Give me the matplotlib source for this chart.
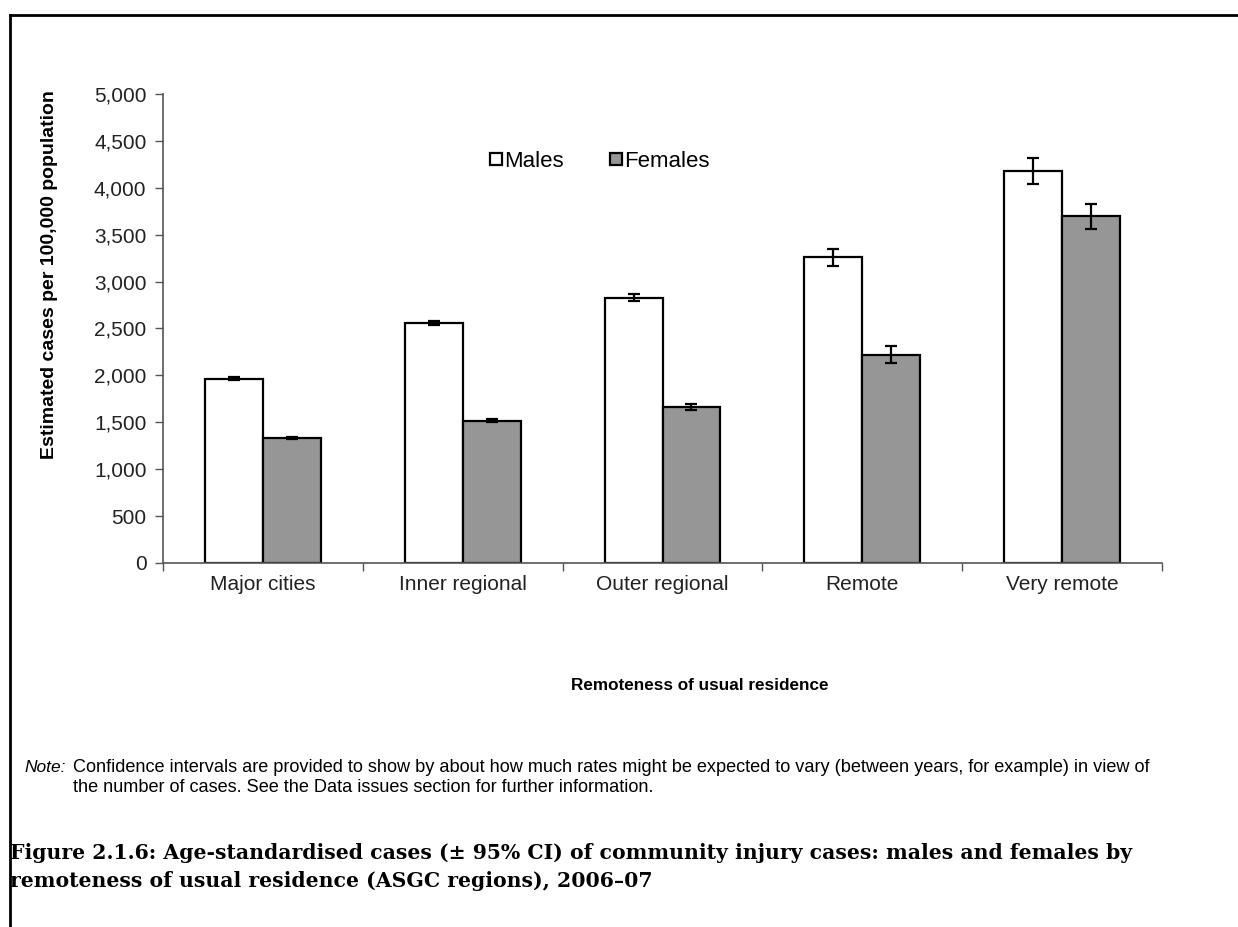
import matplotlib.pyplot as plt
import numpy as np
from matplotlib.lines import Line2D
from matplotlib.ticker import FuncFormatter, MultipleLocator

regions = ["Major cities", "Inner regional", "Outer regional", "Remote", "Very remote"]
males = [1965, 2555, 2830, 3260, 4180]
females = [1330, 1515, 1665, 2220, 3695]
males_ci = [15, 20, 40, 90, 140]
females_ci = [10, 15, 30, 90, 135]

plt.rcParams['font.family'] = ['Liberation Sans', 'DejaVu Sans']

fig = plt.figure(figsize=(12.38, 9.27), dpi=100)
ax = fig.add_axes([0.1317, 0.3927, 0.8069, 0.5059])

x = np.arange(len(regions))
w = 0.29
err_kw = dict(ecolor='black', elinewidth=1.6, capsize=4.5, capthick=1.6)
ax.bar(x - w / 2, males, w, yerr=males_ci, color='white', edgecolor='black',
       linewidth=1.6, error_kw=err_kw, label='Males')
ax.bar(x + w / 2, females, w, yerr=females_ci, color='#969696', edgecolor='black',
       linewidth=1.6, error_kw=err_kw, label='Females')

ax.set_xlim(-0.5, len(regions) - 0.5)
ax.set_ylim(0, 5000)
ax.yaxis.set_major_locator(MultipleLocator(500))
ax.yaxis.set_major_formatter(FuncFormatter(lambda v, p: f"{int(v):,}"))

# tick marks sit between categories, labels in the middle
ax.set_xticks(np.arange(len(regions) + 1) - 0.5)
ax.set_xticklabels([])
ax.set_xticks(x, minor=True)
ax.set_xticklabels(regions, minor=True)
ax.tick_params(axis='x', which='minor', length=0, pad=9, labelsize=15, labelcolor='#222222')
ax.tick_params(axis='x', which='major', direction='out', length=6, width=1, color='#555555')
ax.tick_params(axis='y', direction='out', length=6, width=1, color='#555555',
               labelsize=15, labelcolor='#222222', pad=6)

for s in ['top', 'right']:
    ax.spines[s].set_visible(False)
for s in ['left', 'bottom']:
    ax.spines[s].set_color('#555555')
    ax.spines[s].set_linewidth(1.2)

ax.set_ylabel('Estimated cases per 100,000 population', fontsize=14, fontweight='bold')
ax.yaxis.set_label_coords(-0.105, 0.614)

handles = [Line2D([], [], marker='s', linestyle='none', markersize=8, markerfacecolor='white',
                  markeredgecolor='black', markeredgewidth=1.6),
           Line2D([], [], marker='s', linestyle='none', markersize=8, markerfacecolor='#969696',
                  markeredgecolor='black', markeredgewidth=1.6)]
ax.legend(handles, ['Males', 'Females'], loc='center left', bbox_to_anchor=(0.308, 0.856),
          ncol=2, frameon=False, fontsize=16, handlelength=0.5, handletextpad=0.1,
          columnspacing=2.1)

fig.text(700 / 1238, 1 - 685 / 927, 'Remoteness of usual residence', ha='center', va='center',
         fontsize=12.3, fontweight='bold')

fig.text(24 / 1238, 1 - 767 / 927, 'Note:', style='italic', fontsize=12.5, va='center')
fig.text(73 / 1238, 1 - 767 / 927,
         'Confidence intervals are provided to show by about how much rates might be expected to vary '
         '(between years, for example) in view of', fontsize=13.05, va='center')
fig.text(73 / 1238, 1 - 787 / 927,
         'the number of cases. See the Data issues section for further information.',
         fontsize=13.05, va='center')

title_font = dict(family=['DejaVu Serif'], fontweight='bold', fontsize=14.65, va='center')
fig.text(10 / 1238, 1 - 853 / 927,
         'Figure 2.1.6: Age-standardised cases (\u00b1 95% CI) of community injury cases: males and females by',
         **title_font)
fig.text(10 / 1238, 1 - 881 / 927,
         'remoteness of usual residence (ASGC regions), 2006\u201307', **title_font)

# frame lines along the top and left of the figure
fig.add_artist(Line2D([10 / 1238, 1], [1 - 15 / 927, 1 - 15 / 927], transform=fig.transFigure,
                      color='black', linewidth=2))
fig.add_artist(Line2D([10 / 1238, 10 / 1238], [0, 1 - 15 / 927], transform=fig.transFigure,
                      color='black', linewidth=2))

fig.savefig('out.png', dpi=100)
